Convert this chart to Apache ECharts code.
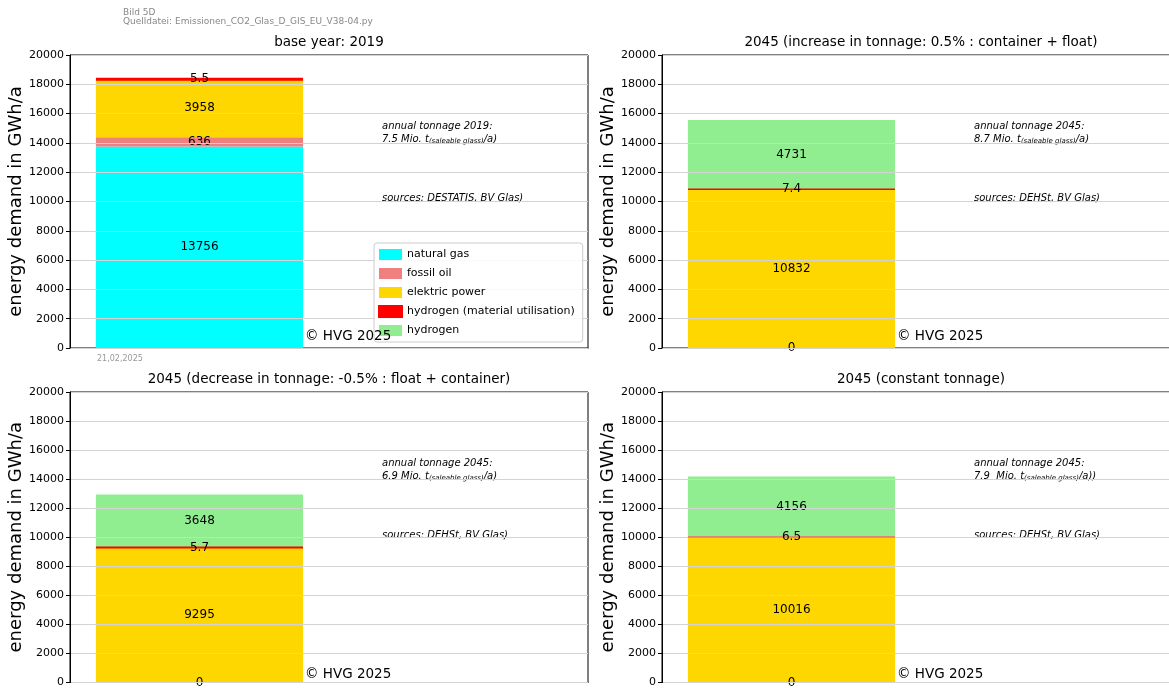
<!DOCTYPE html>
<html>
<head>
<meta charset="utf-8">
<script src="https://cdn.jsdelivr.net/npm/echarts@6/dist/echarts.min.js"></script>
<style>html,body{margin:0;padding:0;background:#fff;overflow:hidden}#c{width:1186px;height:688px}</style>
</head>
<body>
<div id="c"></div>
<script>
// ---- data ----
const categories = ['', ''];
const seriesNames = ['natural gas', 'fossil oil', 'elektric power', 'hydrogen (material utilisation)', 'hydrogen'];
const seriesColors = ['#00FFFF', '#F08080', '#FFD700', '#FF0000', '#90EE90'];
const chartTitles = [
  'base year: 2019',
  '2045 (increase in tonnage: 0.5% : container + float)',
  '2045 (decrease in tonnage: -0.5% : float + container)',
  '2045 (constant tonnage)'
];
const naturalGas       = [13756, 0, 0, 0];
const fossilOil        = [636, 0, 0, 0];
const elektricPower    = [3958, 10832, 9295, 10016];
const hydrogenMaterial = [5.5, 7.4, 5.7, 6.5];
const hydrogen         = [0, 4731, 3648, 4156];
const tonnageYear      = ['2019', '2045', '2045', '2045'];
const tonnageValue     = ['7.5 Mio. t', '8.7 Mio. t', '6.9 Mio. t', '7.9  Mio. t'];
const tonnageEnd       = ['/a)', '/a)', '/a)', '/a))'];
const sources          = ['sources: DESTATIS, BV Glas)', 'sources: DEHSt, BV Glas)', 'sources: DEHSt, BV Glas)', 'sources: DEHSt, BV Glas)'];
const yMin = 0, yMax = 20000, yInterval = 2000;

// ---- layout ----
const FONT = 'DejaVu Sans';
const gridLeft = [70, 662, 70, 662];
const gridTop = [55, 55, 392, 392];
const gridH = [293, 293, 294, 294];
const gridW = 518;
const h2LineWidth = [3, 1.5, 2, 1];
const h2LineColor = ['#FF0000', '#FF0000', '#FF0000', '#F06A6A'];
const allValues = [naturalGas, fossilOil, elektricPower, hydrogenMaterial, hydrogen];

const option = {
  animation: false,
  backgroundColor: '#fff',
  textStyle: {fontFamily: FONT},
  grid: gridLeft.map((l, i) => ({left: l, top: gridTop[i], width: gridW, height: gridH[i], show: true, borderColor: '#000', borderWidth: 1, backgroundColor: 'transparent', containLabel: false})),
  xAxis: gridLeft.map((l, i) => ({
    type: 'category', gridIndex: i, data: categories,
    axisLine: {show: true, lineStyle: {color: '#000', width: 1}},
    axisTick: {show: false}, axisLabel: {show: false}, splitLine: {show: false}
  })),
  yAxis: gridLeft.map((l, i) => ({
    type: 'value', gridIndex: i, min: yMin, max: yMax, interval: yInterval, z: 3,
    name: 'energy demand in GWh/a', nameLocation: 'middle', nameGap: 45,
    nameTextStyle: {fontSize: 18, color: '#000', fontFamily: FONT},
    axisLine: {show: true, lineStyle: {color: '#000', width: 1}},
    axisTick: {show: true, length: 4, lineStyle: {color: '#000'}},
    axisLabel: {fontSize: 11, color: '#000', margin: 6, fontFamily: FONT, formatter: v => String(v)},
    splitLine: {show: true, lineStyle: {color: '#d3d3d3', width: 1}}
  })),
  legend: {
    data: seriesNames,
    orient: 'vertical', left: 374, top: 243,
    itemWidth: 23, itemHeight: 11, itemGap: 6, icon: 'rect',
    padding: [5, 8, 5, 4],
    backgroundColor: 'rgba(255,255,255,0.85)', borderColor: '#cccccc', borderWidth: 1, borderRadius: 3,
    textStyle: {fontSize: 11, lineHeight: 13, color: '#000', fontFamily: FONT}
  },
  series: [],
  graphic: []
};

for (let c = 0; c < 4; c++) {
  for (let s = 0; s < 5; s++) {
    const v = allValues[s][c];
    const showLabel = v > 0 || (s === 0 && c > 0);
    const item = {value: v, label: {show: showLabel}};
    const ser = {
      type: 'bar', name: seriesNames[s], xAxisIndex: c, yAxisIndex: c, stack: 'st' + c,
      barWidth: '80%',
      itemStyle: {color: seriesColors[s]},
      label: {
        position: 'inside', color: '#000', fontSize: 12, fontFamily: FONT,
        formatter: p => String(p.value)
      },
      data: [item, '-']
    };
    if (s === 3) {
      ser.z = 4;
      ser.itemStyle = {color: h2LineColor[c], borderColor: h2LineColor[c], borderWidth: h2LineWidth[c]};
    }
    option.series.push(ser);
  }
  const gl = gridLeft[c], gt = gridTop[c], gh = gridH[c];
  const cx = gl + gridW / 2;
  const ax = gl + 312;
  const ay = gt + 71;
  option.graphic.push(
    {type: 'text', x: cx, y: gt - 13, style: {text: chartTitles[c], fontSize: 13.5, fontFamily: FONT, fill: '#000', textAlign: 'center', textVerticalAlign: 'middle'}},
    {type: 'text', x: ax, y: ay, style: {text: 'annual tonnage ' + tonnageYear[c] + ':', font: 'italic 10px "DejaVu Sans"', fill: '#000', textVerticalAlign: 'middle'}},
    {type: 'text', x: ax, y: ay + 13, style: {
      text: '{a|' + tonnageValue[c] + '}{s|(saleable glass)}{a|' + tonnageEnd[c] + '}',
      textVerticalAlign: 'middle',
      rich: {
        a: {fontSize: 10, fontStyle: 'italic', fontFamily: FONT, fill: '#000', color: '#000'},
        s: {fontSize: 7, fontStyle: 'italic', fontFamily: FONT, fill: '#000', color: '#000', padding: [5, 0, 0, 0]}
      }
    }},
    {type: 'text', x: ax, y: gt + 143, style: {text: sources[c], font: 'italic 10px "DejaVu Sans"', fill: '#000', textVerticalAlign: 'middle'}},
    {type: 'text', x: gl + 235, y: gt + gh - 12, style: {text: '\u00A9 HVG 2025', fontSize: 13.5, fontFamily: FONT, fill: '#000', textVerticalAlign: 'middle'}, z: 10}
  );
}
option.graphic.push(
  {type: 'text', x: 123, y: 13, style: {text: 'Bild 5D', fontSize: 9, fontFamily: FONT, fill: '#888', textVerticalAlign: 'middle'}},
  {type: 'text', x: 123, y: 22, style: {text: 'Quelldatei: Emissionen_CO2_Glas_D_GIS_EU_V38-04.py', fontSize: 9, fontFamily: FONT, fill: '#888', textVerticalAlign: 'middle'}},
  {type: 'text', x: 97, y: 359, style: {text: '21,02,2025', fontSize: 8, fontFamily: FONT, fill: '#999', textVerticalAlign: 'middle'}}
);

const chart = echarts.init(document.getElementById('c'), null, {renderer: 'canvas'});
chart.setOption(option);
</script>
</body>
</html>
